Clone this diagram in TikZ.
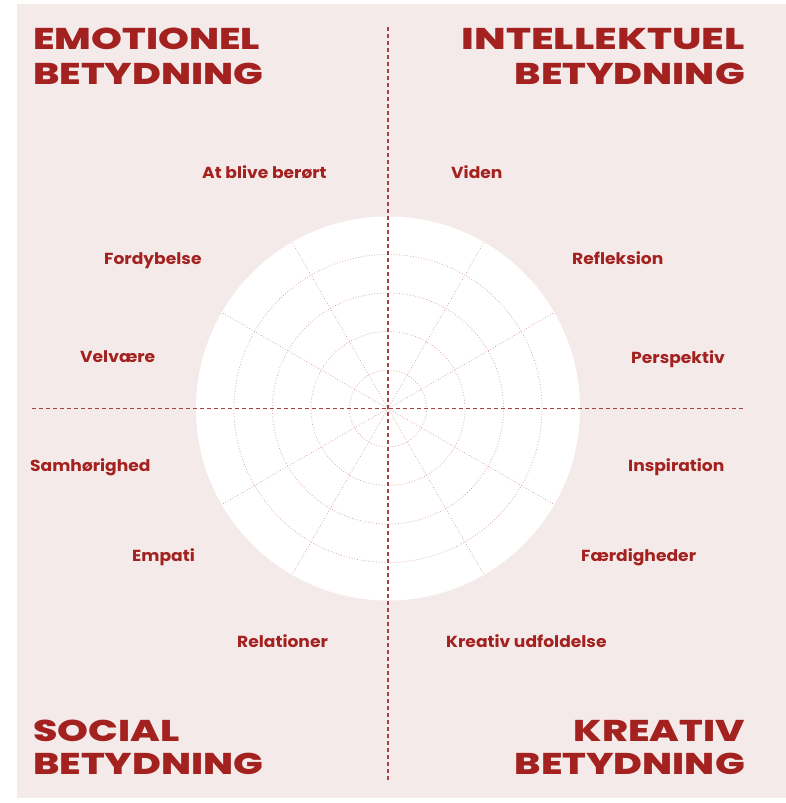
\documentclass[tikz,border=0pt]{standalone}
\usepackage{fontspec}
\usepackage{graphicx}
\setmainfont{Poppins}
\newfontfamily\heavyfont{Poppins ExtraBold}
\newcommand{\hdtext}[1]{\scalebox{1.31}[1]{#1}}
\newcommand{\lbtext}[1]{\scalebox{1.07}[1]{#1}}
\definecolor{bg}{HTML}{F5EAEA}
\definecolor{txt}{HTML}{A3211F}
\definecolor{axis}{HTML}{A8403F}
\definecolor{grid}{HTML}{D4A2A2}
\begin{document}
\begin{tikzpicture}[x=1pt,y=-1pt,
  heading/.style={font=\fontsize{30}{30}\selectfont\heavyfont, text=txt, inner sep=0pt},
  lab/.style={font=\fontsize{16}{16}\selectfont\bfseries, text=txt, inner sep=0pt, anchor=base west},
  gridline/.style={draw=grid, line width=0.75pt, dotted},
  axisline/.style={draw=axis, line width=1.6pt, dash pattern=on 4pt off 3pt}]
\useasboundingbox (0,0) rectangle (786,803);
\fill[bg] (17,4) rectangle (786,798);
\coordinate (c) at (388,408.5);
\fill[white] (c) circle[radius=192];
\foreach \r in {38.5,77,115.5,154} \draw[gridline] (c) circle[radius=\r];
\foreach \a in {30,60,120,150,210,240,300,330} \draw[gridline] (c) -- ++(\a:192);
\coordinate (vt) at (388,27);
\coordinate (vb) at (388,780);
\coordinate (hl) at (32,408.5);
\coordinate (hr) at (745,408.5);
\draw[axisline] (vt) -- (vb);
\draw[axisline] (hl) -- (hr);
% headings
\node[heading, anchor=base west] (emo1) at (33,49) {\hdtext{EMOTIONEL}};
\node[heading, anchor=base west] (emo2) at (33,84) {\hdtext{BETYDNING}};
\node[heading, anchor=base east] (int1) at (745,49) {\scalebox{1.38}[1]{INTELLEKTUEL}};
\node[heading, anchor=base east] (int2) at (745,84) {\hdtext{BETYDNING}};
\node[heading, anchor=base west] (soc1) at (33,741) {\hdtext{SOCIAL}};
\node[heading, anchor=base west] (soc2) at (33,774) {\hdtext{BETYDNING}};
\node[heading, anchor=base east] (kre1) at (745,741) {\hdtext{KREATIV}};
\node[heading, anchor=base east] (kre2) at (745,774) {\hdtext{BETYDNING}};
% labels
\node[lab] (l1) at (202,178) {\lbtext{At blive berørt}};
\node[lab] (l2) at (451,178) {\lbtext{Viden}};
\node[lab] (l3) at (104,264) {\lbtext{Fordybelse}};
\node[lab] (l4) at (572,264) {\lbtext{Refleksion}};
\node[lab] (l5) at (80,362) {\lbtext{Velvære}};
\node[lab] (l6) at (631,363) {\lbtext{Perspektiv}};
\node[lab] (l7) at (30,471) {\lbtext{Samhørighed}};
\node[lab] (l8) at (628,471) {\lbtext{Inspiration}};
\node[lab] (l9) at (132,561) {\lbtext{Empati}};
\node[lab] (l10) at (581,561) {\lbtext{Færdigheder}};
\node[lab] (l11) at (237,647) {\lbtext{Relationer}};
\node[lab] (l12) at (446,647) {\lbtext{Kreativ udfoldelse}};
\end{tikzpicture}
\end{document}
